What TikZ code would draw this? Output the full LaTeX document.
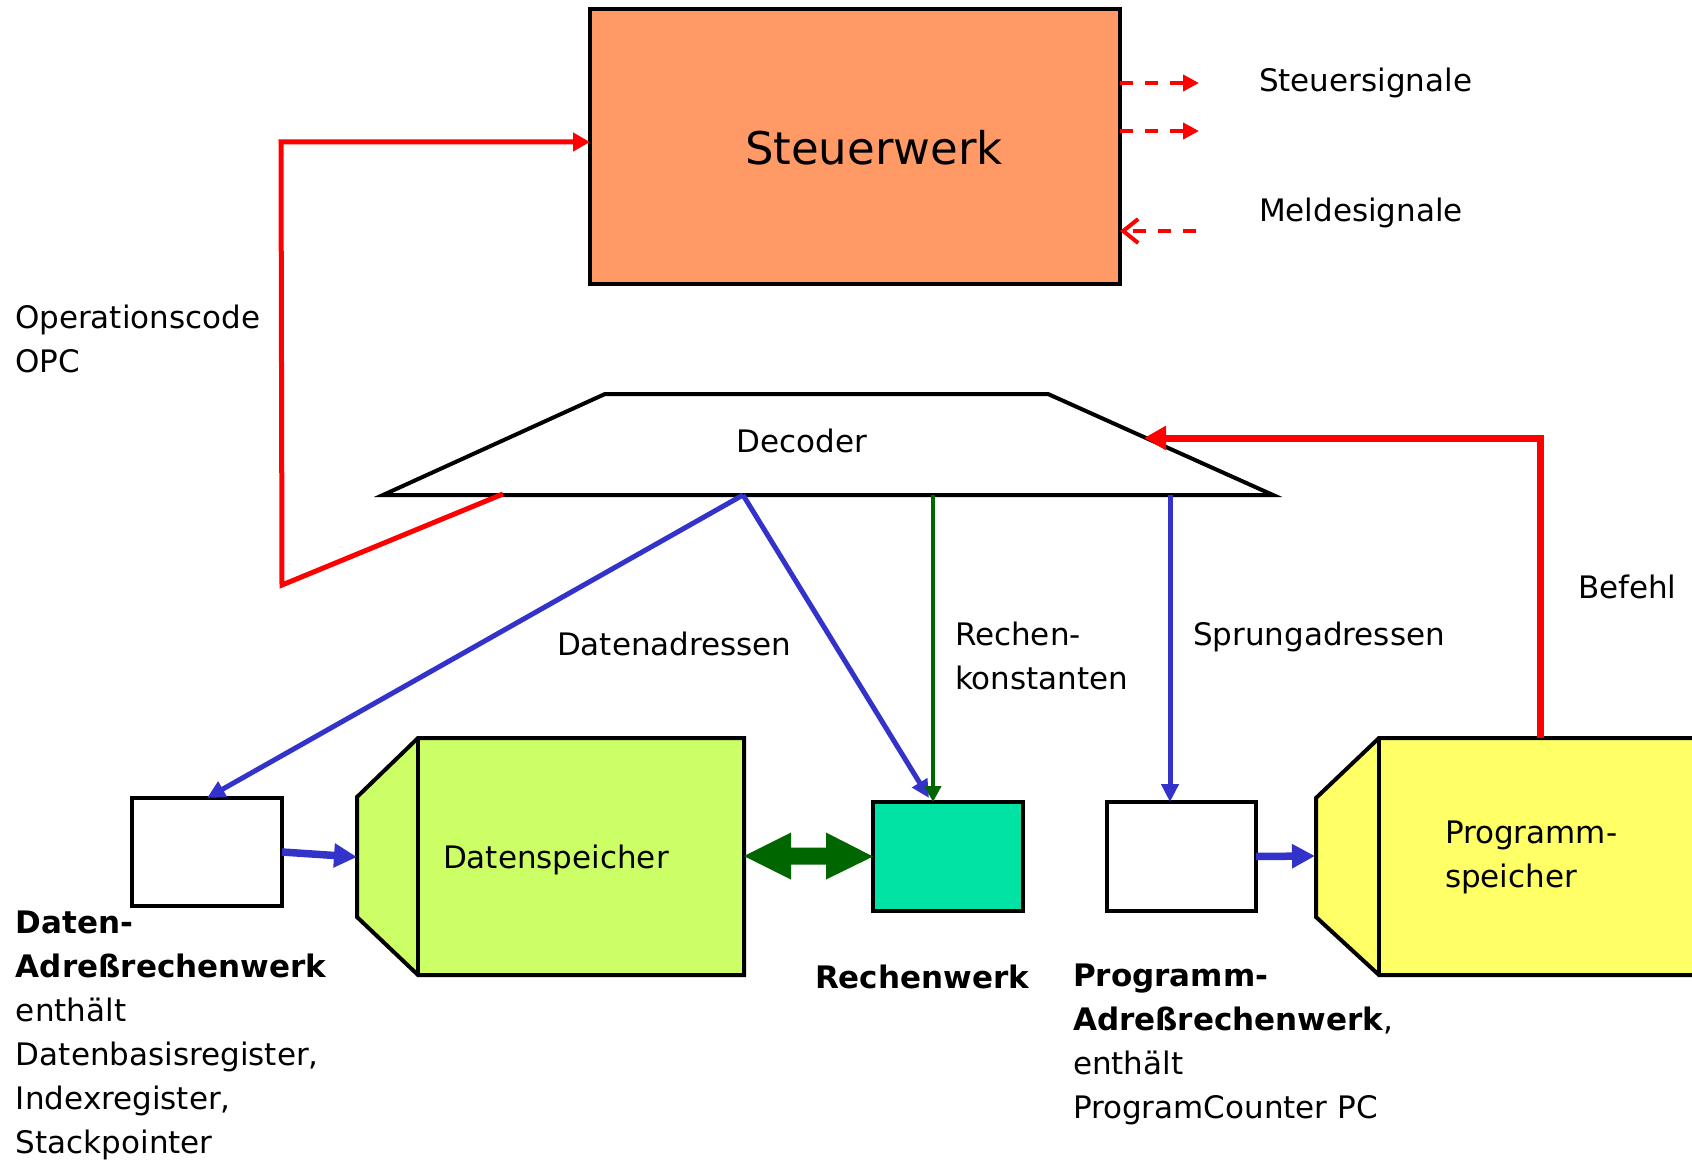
\documentclass[tikz,border=0pt]{standalone}
\usepackage{fontspec}
\setmainfont{DejaVu Sans}
\usetikzlibrary{arrows.meta}

\definecolor{swfill}{HTML}{FF9966}
\definecolor{dsfill}{HTML}{CCFF66}
\definecolor{psfill}{HTML}{FFFF66}
\definecolor{rwfill}{HTML}{00E3A5}
\definecolor{sigred}{HTML}{FF0000}
\definecolor{addrblue}{HTML}{3333CC}
\definecolor{darkgreen}{HTML}{006600}

% left-aligned multi-line block whose reference point is the first baseline
\newcommand\linestack[1]{\begin{tabular}[t]{@{}l@{}}#1\end{tabular}}

\begin{document}
\begin{tikzpicture}[x=1pt,y=-1pt,
  every node/.style={inner sep=0pt,outer sep=0pt},
  lbl/.style={anchor=base west,font=\fontsize{31}{44}\selectfont},
  regbox/.style={draw,line width=4pt,minimum width=150pt,minimum height=108pt},
  outline/.style={draw=black,line width=4pt,line join=miter},
  ctrlsig/.style={sigred,line width=4pt,dash pattern=on 13pt off 12pt},
  opcline/.style={sigred,line width=5pt,-{Triangle[length=17pt,width=18pt]}},
  cmdline/.style={sigred,line width=7pt,-{Triangle[length=22pt,width=23pt]}},
  addrline/.style={addrblue,line width=5pt,-{Triangle[length=18pt,width=17pt]}},
  constline/.style={darkgreen,line width=4pt,-{Triangle[length=16pt,width=16pt]}},
  busarrow/.style={addrblue,line width=7.5pt,-{Triangle[length=23pt,width=23pt]}}
]
\useasboundingbox (0,0) rectangle (1692,1161);
\clip (0,0) rectangle (1692,1161);
\fill[white] (0,0) rectangle (1692,1161);

% ---------- Steuerwerk ----------
\node[draw,line width=4pt,fill=swfill,minimum width=530pt,minimum height=275pt]
  (sw) at (855,146.5) {};
\node[anchor=base west,font=\fontsize{45}{54}\selectfont] (swtext) at (745,165) {Steuerwerk};

% control and status signals
\coordinate (s1) at (1199,83);
\coordinate (s2) at (1199,131);
\coordinate (m1) at (1196,231);
\draw[ctrlsig,-{Triangle[length=16pt,width=16pt]}] (sw.east |- s1) -- (s1);
\draw[ctrlsig,-{Triangle[length=16pt,width=16pt]}] (sw.east |- s2) -- (s2);
\draw[ctrlsig,-{Straight Barb[length=15pt,width=24pt]}] (m1) -- (sw.east |- m1);
\node[lbl] (steuersig) at (1259,92) {Steuersignale};
\node[lbl] (meldesig) at (1259,222) {Meldesignale};

% ---------- Decoder ----------
\coordinate (decBL) at (383,495);
\coordinate (decTL) at (605,394);
\coordinate (decTR) at (1048,394);
\coordinate (decBR) at (1273,495);
\draw[outline,fill=white] (decBL) -- (decTL) -- (decTR) -- (decBR) -- cycle;
\node[anchor=base,font=\fontsize{31}{44}\selectfont] (dectext) at (802,452) {Decoder};

\coordinate (decOpc) at (503,494);
\coordinate (decData) at (743,495);
\coordinate (decConst) at (933,495);
\coordinate (decJump) at (1170,495);
\coordinate (decIn) at (1144,438);

% ---------- register boxes ----------
\node[regbox,fill=white] (dar) at (207,852) {};
\node[regbox,fill=rwfill,minimum height=109pt] (rw) at (948,856.5) {};
\node[regbox,fill=white,minimum width=149pt,minimum height=109pt] (par) at (1181.5,856.5) {};

% ---------- Datenspeicher ----------
\coordinate (dsIn) at (357,857);
\coordinate (dsOut) at (744,856);
\draw[outline,fill=dsfill] (357,797) -- (418,738) -- (744,738) -- (744,975)
  -- (418,975) -- (357,917) -- cycle;
\draw[outline] (418,738) -- (418,975);
\node[lbl] (dstext) at (443,868) {Datenspeicher};

% ---------- Programmspeicher ----------
\coordinate (psIn) at (1315,856);
\coordinate (psOut) at (1540,738);
\draw[outline,fill=psfill] (1316,798) -- (1379,738) -- (1720,738) -- (1720,975)
  -- (1379,975) -- (1316,917) -- cycle;
\draw[outline] (1379,738) -- (1379,975);
\node[lbl] (pstext) at (1445,843) {\linestack{Programm-\\speicher}};

% ---------- connections ----------
% opcode back to the control unit
\draw[opcline] (decOpc) -- (282,585) -- (281,142) -- (sw.west |- 0,142);
% instruction from program memory to the decoder
\draw[cmdline] (psOut) -- (1540,438) -- (decIn);
% data addresses
\coordinate (rwIn) at (929,798);
\draw[addrline] (decData) -- (dar.north);
\draw[addrline] (decData) -- (rwIn);
% arithmetic constants
\draw[constline] (decConst) -- (decConst |- rw.north);
% jump addresses
\draw[addrline] (decJump) -- (decJump |- par.north);
% address buses into the memories
\draw[busarrow] (dar.east) -- (dsIn);
\draw[busarrow] (par.east) -- (psIn);
% bidirectional data path between memory and ALU
\fill[darkgreen] (dsOut) -- (791,832.5) -- (791,847.5) -- (826,847.5) -- (826,832.5)
  -- (rw.west) -- (826,879.5) -- (826,864.5) -- (791,864.5) -- (791,879.5) -- cycle;

% ---------- labels ----------
\node[lbl] (opc) at (15,328) {\linestack{Operationscode\\OPC}};
\node[lbl] (dadr) at (557,655) {Datenadressen};
\node[lbl] (rconst) at (955,645) {\linestack{Rechen-\\konstanten}};
\node[lbl] (jadr) at (1193,645) {Sprungadressen};
\node[lbl] (befehl) at (1578,598) {Befehl};
\node[lbl] (rwlabel) at (815,988) {\textbf{Rechenwerk}};
\node[lbl] (darlabel) at (16,933)
  {\linestack{\textbf{Daten-}\\\textbf{Adreßrechenwerk}\\enthält\\Datenbasisregister,\\Indexregister,\\Stackpointer}};
\node[lbl] (parlabel) at (1073,986)
  {\linestack{\textbf{Programm-}\\\textbf{Adreßrechenwerk},\\enthält\\ProgramCounter PC}};
\end{tikzpicture}
\end{document}
